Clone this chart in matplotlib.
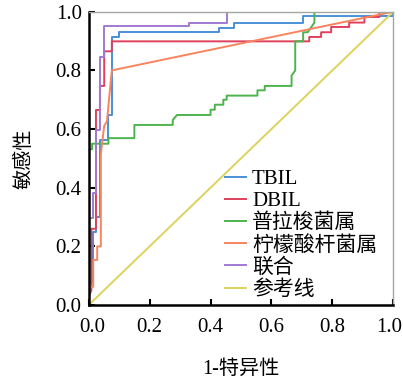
import matplotlib
matplotlib.use("Agg")
import matplotlib.pyplot as plt
from matplotlib.transforms import ScaledTranslation

plt.rcParams['font.family'] = ['Liberation Serif', 'Noto Sans CJK SC', 'DejaVu Sans']

labels = ["TBIL", "DBIL", "普拉梭菌属", "柠檬酸杆菌属", "联合", "参考线"]
colors = ["#4a8fd6", "#e0405c", "#4db34d", "#f7845f", "#a07ad0", "#ddd35c"]

tbil_fpr = [0, 0, 0.013, 0.013, 0.024, 0.024, 0.037, 0.037, 0.065, 0.065, 0.076, 0.076,
            0.10, 0.10, 0.427, 0.427, 0.477, 0.477, 0.702, 0.702, 1.0, 1.0]
tbil_tpr = [0, 0.08, 0.08, 0.25, 0.25, 0.30, 0.30, 0.563, 0.563, 0.648, 0.648, 0.914,
            0.914, 0.93, 0.93, 0.944, 0.944, 0.963, 0.963, 0.984, 0.984, 1.0]

dbil_fpr = [0, 0, 0.009, 0.009, 0.024, 0.024, 0.037, 0.037, 0.051, 0.051, 0.076, 0.076,
            0.724, 0.724, 0.763, 0.763, 0.796, 0.796, 0.855, 0.855, 0.905, 0.905, 0.954, 0.954, 1.0]
dbil_tpr = [0, 0.03, 0.05, 0.26, 0.26, 0.665, 0.665, 0.747, 0.747, 0.865, 0.865, 0.899,
            0.899, 0.914, 0.914, 0.93, 0.93, 0.948, 0.948, 0.963, 0.963, 0.982, 0.982, 1.0, 1.0]

pla_fpr = [0, 0, 0.011, 0.011, 0.065, 0.065, 0.15, 0.15, 0.276, 0.276, 0.29, 0.40, 0.40,
           0.414, 0.414, 0.442, 0.442, 0.453, 0.453, 0.554, 0.554, 0.578, 0.578, 0.666, 0.666,
           0.678, 0.678, 0.704, 0.704, 0.719, 0.741, 0.741, 1.0]
pla_tpr = [0, 0.531, 0.531, 0.55, 0.55, 0.569, 0.569, 0.614, 0.614, 0.631, 0.648, 0.648, 0.666,
           0.666, 0.683, 0.683, 0.70, 0.70, 0.714, 0.714, 0.732, 0.732, 0.747, 0.747, 0.782,
           0.80, 0.899, 0.899, 0.93, 0.93, 0.963, 1.0, 1.0]

cit_fpr = [0, 0, 0.015, 0.015, 0.028, 0.028, 0.04, 0.04, 0.051, 0.06, 0.076, 1.0]
cit_tpr = [0, 0.062, 0.062, 0.154, 0.154, 0.2, 0.2, 0.515, 0.611, 0.626, 0.80, 1.0]

comb_fpr = [0, 0, 0.013, 0.013, 0.024, 0.024, 0.037, 0.037, 0.051, 0.051, 0.329, 0.329,
            0.453, 0.453, 1.0]
comb_tpr = [0, 0.297, 0.297, 0.382, 0.382, 0.597, 0.597, 0.847, 0.847, 0.952, 0.952, 0.963,
            0.963, 1.0, 1.0]

ref_fpr = [0, 1]
ref_tpr = [0, 1]

ticks = [0.0, 0.2, 0.4, 0.6, 0.8, 1.0]
tick_labels = ["0.0", "0.2", "0.4", "0.6", "0.8", "1.0"]

fig = plt.figure(figsize=(4.03, 3.78), dpi=100)
ax = fig.add_axes([0.220, 0.193, 0.756, 0.776])

series = [(tbil_fpr, tbil_tpr), (dbil_fpr, dbil_tpr), (pla_fpr, pla_tpr),
          (cit_fpr, cit_tpr), (comb_fpr, comb_tpr), (ref_fpr, ref_tpr)]
for (x, y), lab, c in zip(series, labels, colors):
    ax.plot(x, y, color=c, lw=1.4, label=lab)

ax.set_xlim(0, 1)
ax.set_ylim(0, 1)
ax.set_xticks(ticks)
ax.set_xticklabels(tick_labels)
ax.set_yticks(ticks)
ax.set_yticklabels(tick_labels)
ax.tick_params(direction='in', length=4.5, width=1.5, labelsize=15, colors='black', pad=5)
ax.tick_params(axis='x', pad=9)
# nudge end x tick labels inward so they stay inside the figure
xl = ax.get_xticklabels()
xl[-1].set_transform(xl[-1].get_transform() + ScaledTranslation(-4 / 100, 0, fig.dpi_scale_trans))
xl[0].set_transform(xl[0].get_transform() + ScaledTranslation(4 / 100, 0, fig.dpi_scale_trans))

for s in ['left', 'bottom']:
    ax.spines[s].set_linewidth(1.8)
    ax.spines[s].set_color('black')
for s in ['top', 'right']:
    ax.spines[s].set_linewidth(1.0)
    ax.spines[s].set_color('#a0a8a0')

ax.set_xlabel("1-特异性", fontsize=14.5, labelpad=17)
ax.set_ylabel("敏感性", fontsize=14.5, labelpad=15)

leg = ax.legend(loc='upper left', bbox_to_anchor=(0.447, 0.462), frameon=False,
                fontsize=15, handlelength=1.0, handletextpad=0.3,
                labelspacing=0.12, borderpad=0, borderaxespad=0)

fig.savefig("out.png", dpi=100)
